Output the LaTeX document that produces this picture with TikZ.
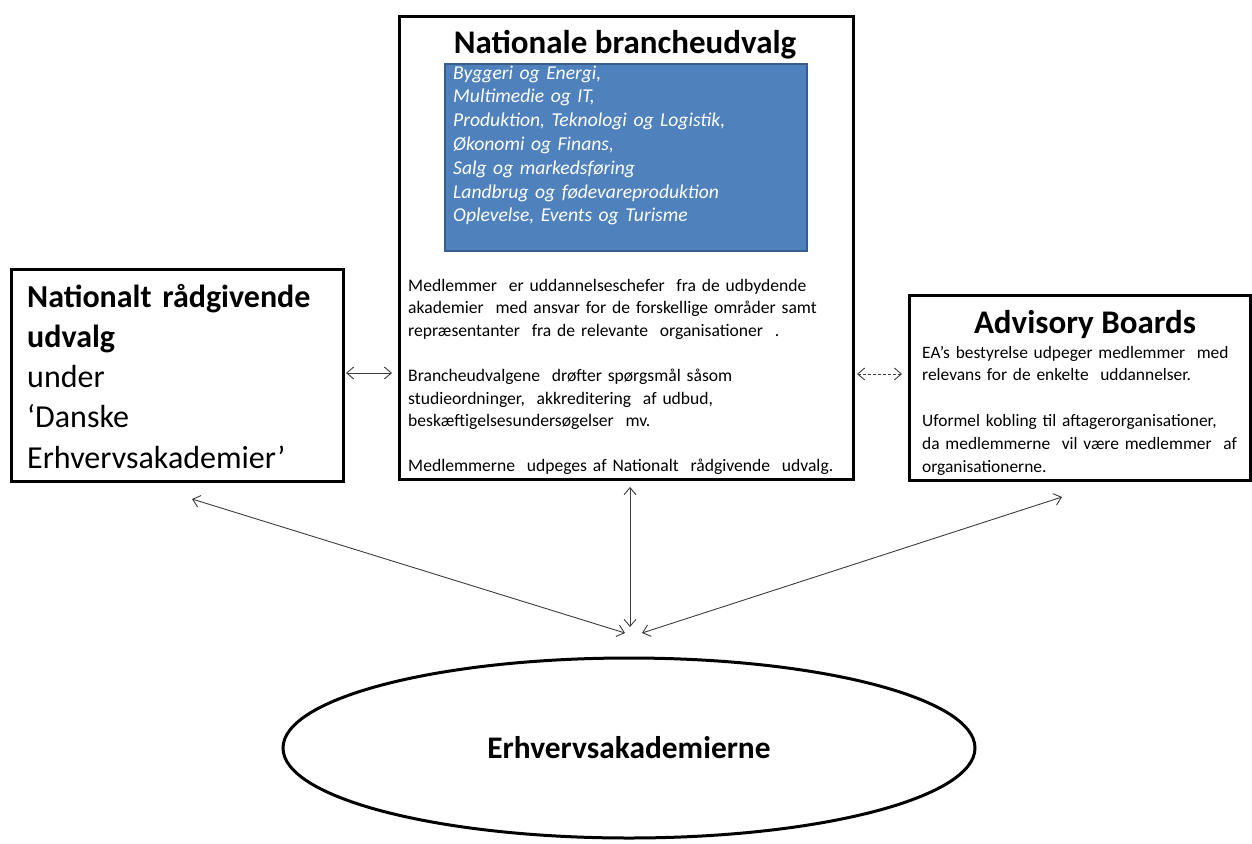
\documentclass[tikz,border=0pt]{standalone}
\usepackage{fontspec}
\setmainfont{Carlito}
\usetikzlibrary{arrows.meta,shapes.geometric}
\definecolor{boxblue}{RGB}{79,129,189}
\definecolor{boxblueb}{RGB}{56,93,138}
\definecolor{arrowgray}{RGB}{60,60,60}
\begin{document}
\begin{tikzpicture}[x=1pt,y=-1pt,
  frame/.style={draw=black, line width=3pt, inner sep=0pt, anchor=north west},
  block/.style={anchor=base west, inner sep=0pt, align=left},
  arr/.style={draw=arrowgray, line width=0.9pt, {Straight Barb[length=7pt,width=12pt]}-{Straight Barb[length=7pt,width=12pt]}},
  title/.style={anchor=base, inner sep=0pt, font=\bfseries\fontsize{33}{38}\selectfont}]
\useasboundingbox (0,0) rectangle (1252,843);
\fill[white] (0,0) rectangle (1252,843);

% boxes
\node[frame, minimum width=454pt, minimum height=463pt] (mid) at (398,15) {};
\node[frame, minimum width=332pt, minimum height=212pt] (left) at (10,268) {};
\node[frame, minimum width=341pt, minimum height=185pt] (right) at (908,294) {};
\node[draw=boxblueb, fill=boxblue, line width=2pt, anchor=north west, inner sep=0pt,
      minimum width=362pt, minimum height=187pt] (blue) at (444,63) {};

% titles
\node[title] (midtitle) at (625,53) {Nationale brancheudvalg};
\node[title] (righttitle) at (1085,333) {Advisory Boards};

% blue list
\node[block, text width=350pt, text=white, font=\itshape\fontsize{19.6}{23.8}\selectfont] (list) at (453,79)
 {Byggeri og Energi,\\
  Multimedie og IT,\\
  Produktion, Teknologi og Logistik,\\
  Økonomi og Finans,\\
  Salg og markedsføring\\
  Landbrug og fødevareproduktion\\
  Oplevelse, Events og Turisme};

% middle body
\node[block, text width=440pt, font=\fontsize{17.6}{22.6}\selectfont] (midtext) at (408,291)
 {Medlemmer\ \ er uddannelseschefer\ \ fra de udbydende\\
  akademier\ \ med ansvar for de forskellige områder samt\\
  repræsentanter\ \ fra de relevante\ \ organisationer\ \ .\\[22.6pt]
  Brancheudvalgene\ \ drøfter spørgsmål såsom\\
  studieordninger,\ \ akkreditering\ \ af udbud,\\
  beskæftigelsesundersøgelser\ \ mv.\\[22.6pt]
  Medlemmerne\ \ udpeges af Nationalt\ \ rådgivende\ \ udvalg.};

% left box text
\node[block, text width=320pt, font=\fontsize{32}{40.25}\selectfont] (lefttext) at (27,307)
 {\textbf{Nationalt rådgivende}\\
  \textbf{udvalg}\\
  under\\
  ‘Danske\\
  Erhvervsakademier’};

% right body
\node[block, text width=335pt, font=\fontsize{17.4}{22.8}\selectfont] (righttext) at (922,358)
 {EA’s bestyrelse udpeger medlemmer\ \ med\\
  relevans for de enkelte\ \ uddannelser.\\[22.8pt]
  Uformel kobling til aftagerorganisationer,\\
  da medlemmerne\ \ vil være medlemmer\ \ af\\
  organisationerne.};

% ellipse
\node[draw=black, ellipse, line width=3pt, minimum width=692pt, minimum height=180pt, inner sep=0pt,
      font=\bfseries\fontsize{31.4}{36}\selectfont] (ea) at (629,748) {Erhvervsakademierne};

% connector end points
\coordinate (lm1) at (346,373);
\coordinate (lm2) at (392,373);
\coordinate (mr1) at (857,374);
\coordinate (mr2) at (902,374);
\coordinate (lb) at (192,499);
\coordinate (lbe) at (625,633);
\coordinate (mb) at (630,487);
\coordinate (mbe) at (630,627);
\coordinate (rb) at (1062,497);
\coordinate (rbe) at (642,633);

\draw[arr] (lm1) -- (lm2);
\draw[arr, dashed, dash pattern=on 3pt off 2pt] (mr1) -- (mr2);
\draw[arr] (lb) -- (lbe);
\draw[arr] (mb) -- (mbe);
\draw[arr] (rb) -- (rbe);
\end{tikzpicture}
\end{document}
